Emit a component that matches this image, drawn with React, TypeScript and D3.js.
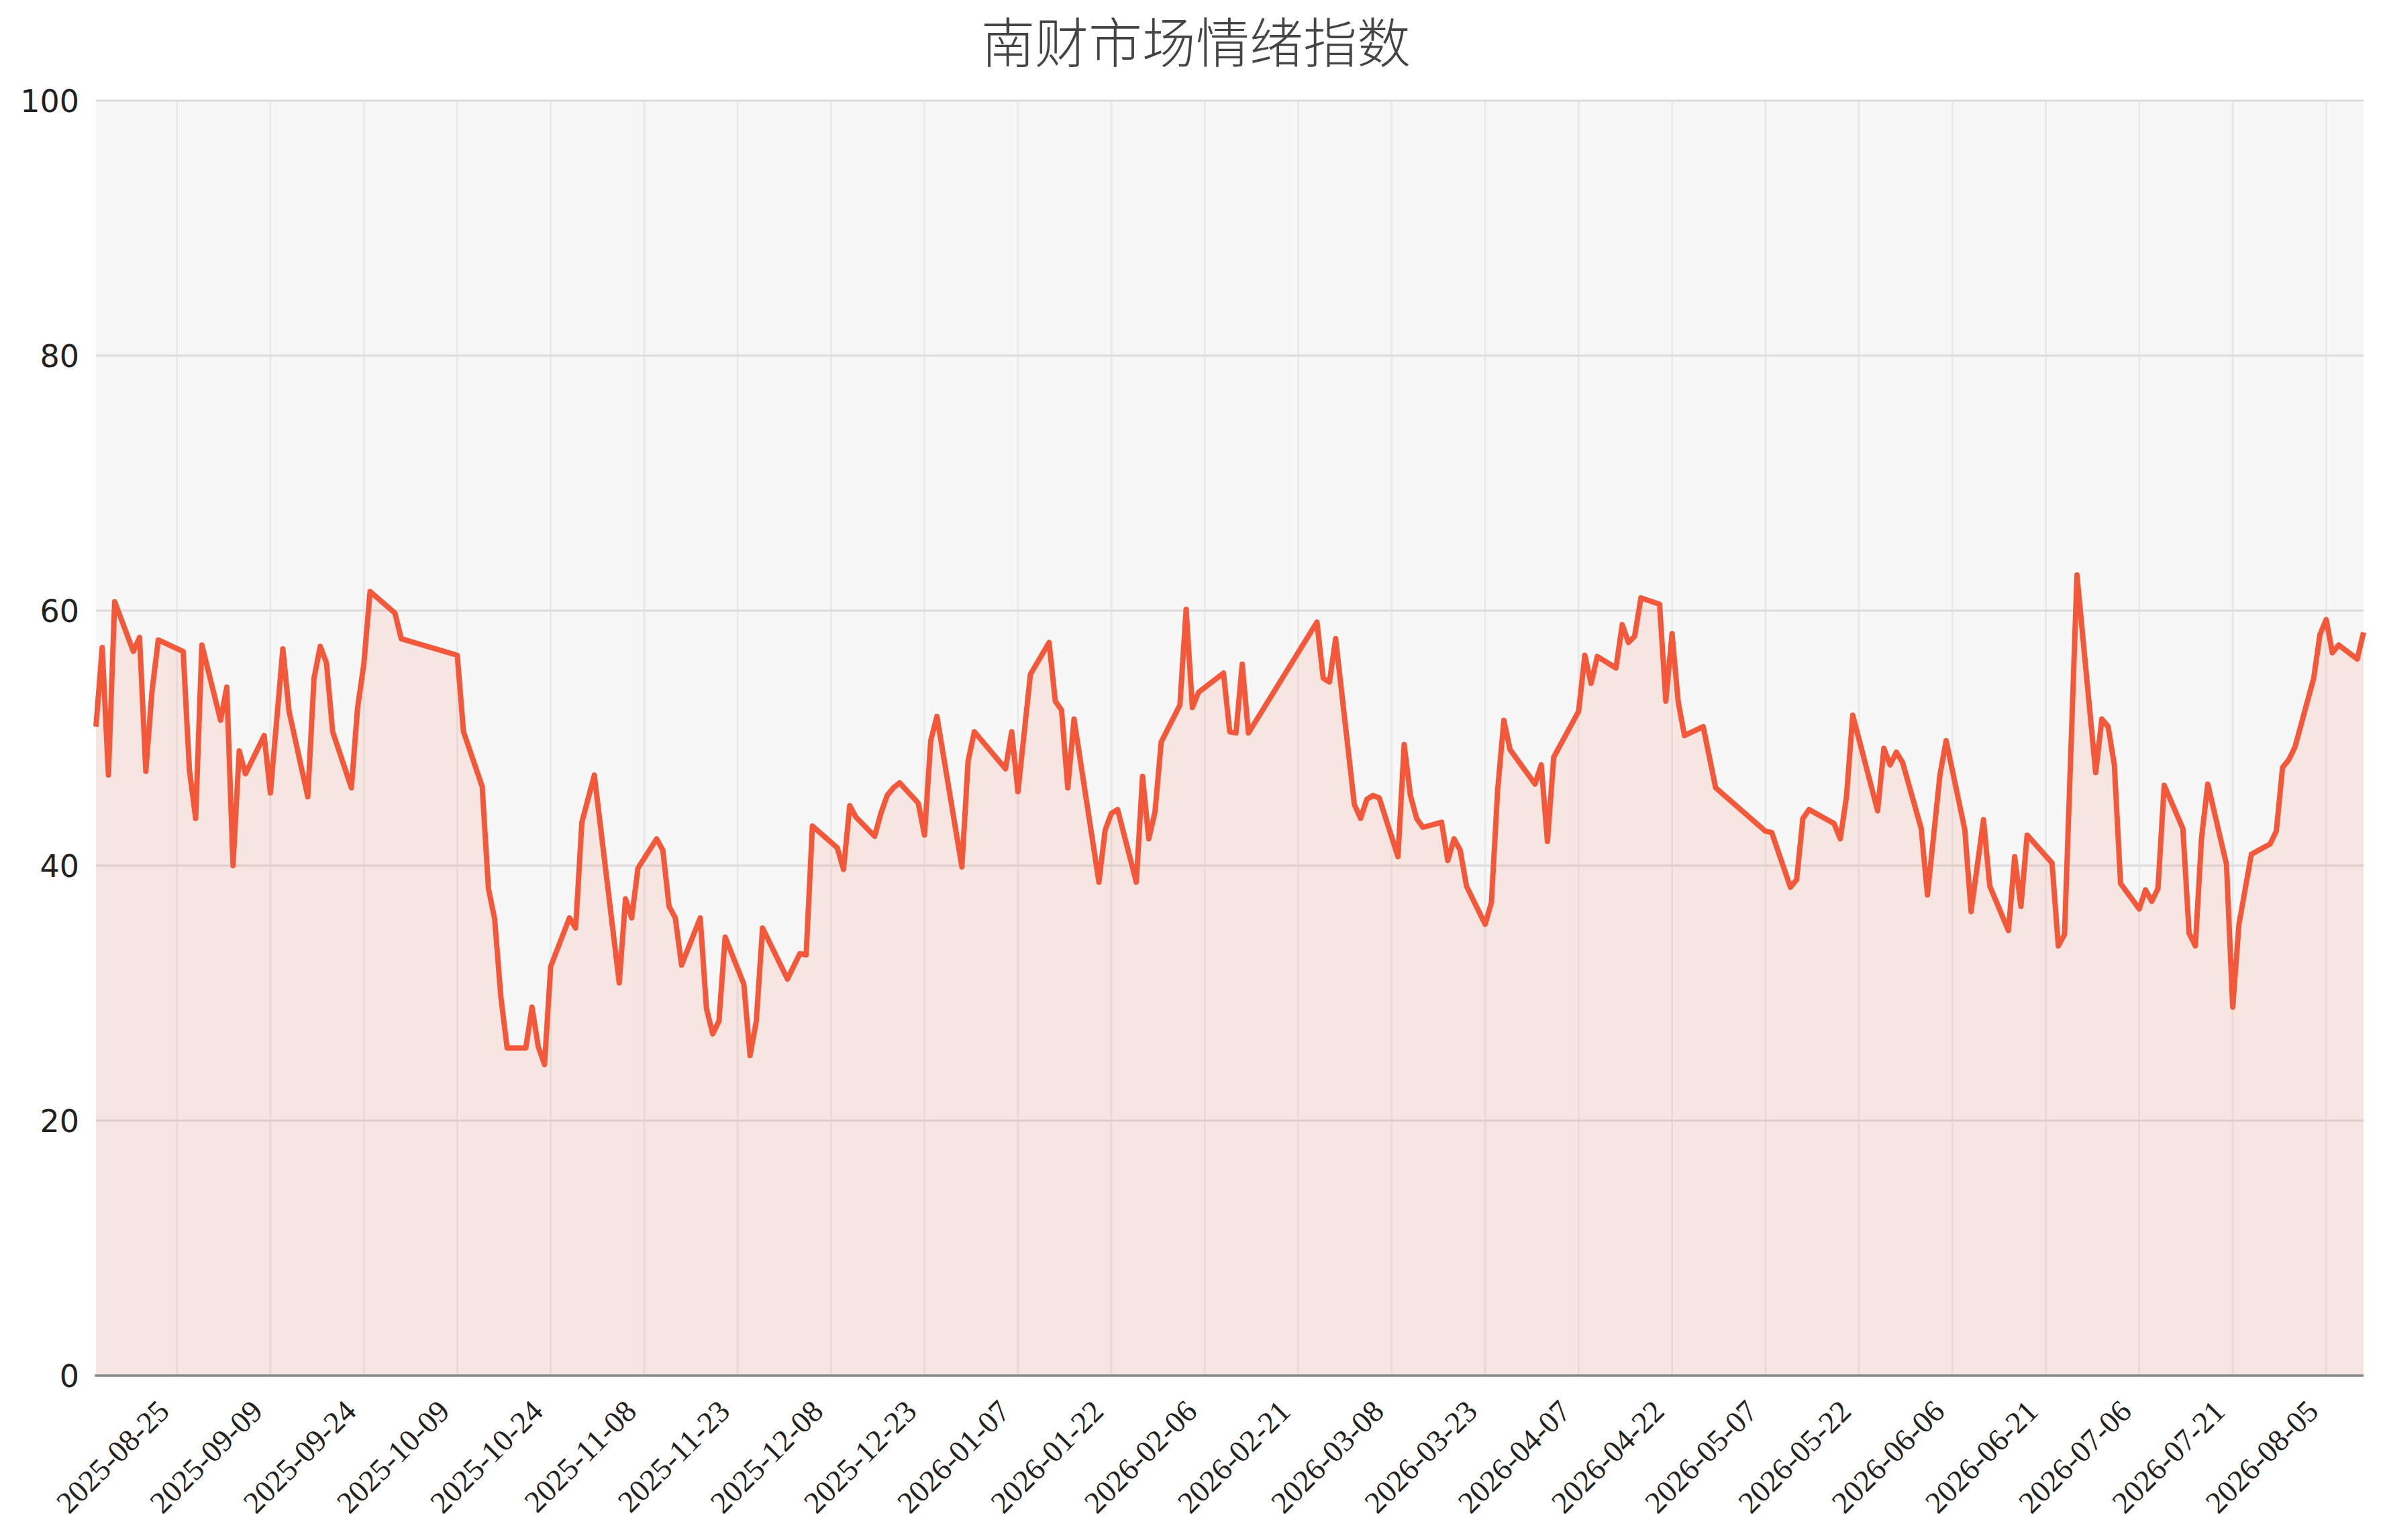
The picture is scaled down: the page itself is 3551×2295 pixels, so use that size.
import React, { useEffect, useRef } from "react";
import * as d3 from "d3";

const title = "南财市场情绪指数";

// trading days (vertices of the line)
const dates = [
  "2025-08-12", "2025-08-13", "2025-08-14", "2025-08-15", "2025-08-18", "2025-08-19", "2025-08-20", "2025-08-21",
  "2025-08-22", "2025-08-26", "2025-08-27", "2025-08-28", "2025-08-29", "2025-09-01", "2025-09-02", "2025-09-03",
  "2025-09-04", "2025-09-05", "2025-09-08", "2025-09-09", "2025-09-11", "2025-09-12", "2025-09-15", "2025-09-16",
  "2025-09-17", "2025-09-18", "2025-09-19", "2025-09-22", "2025-09-23", "2025-09-24", "2025-09-25", "2025-09-29",
  "2025-09-30", "2025-10-09", "2025-10-10", "2025-10-13", "2025-10-14", "2025-10-15", "2025-10-16", "2025-10-17",
  "2025-10-20", "2025-10-21", "2025-10-22", "2025-10-23", "2025-10-24", "2025-10-27", "2025-10-28", "2025-10-29",
  "2025-10-31", "2025-11-04", "2025-11-05", "2025-11-06", "2025-11-07", "2025-11-10", "2025-11-11", "2025-11-12",
  "2025-11-13", "2025-11-14", "2025-11-17", "2025-11-18", "2025-11-19", "2025-11-20", "2025-11-21", "2025-11-24",
  "2025-11-25", "2025-11-26", "2025-11-27", "2025-12-01", "2025-12-03", "2025-12-04", "2025-12-05", "2025-12-09",
  "2025-12-10", "2025-12-11", "2025-12-12", "2025-12-15", "2025-12-16", "2025-12-17", "2025-12-18", "2025-12-19",
  "2025-12-22", "2025-12-23", "2025-12-24", "2025-12-25", "2025-12-29", "2025-12-30", "2025-12-31", "2026-01-05",
  "2026-01-06", "2026-01-07", "2026-01-09", "2026-01-12", "2026-01-13", "2026-01-14", "2026-01-15", "2026-01-16",
  "2026-01-20", "2026-01-21", "2026-01-22", "2026-01-23", "2026-01-26", "2026-01-27", "2026-01-28", "2026-01-29",
  "2026-01-30", "2026-02-02", "2026-02-03", "2026-02-04", "2026-02-05", "2026-02-09", "2026-02-10", "2026-02-11",
  "2026-02-12", "2026-02-13", "2026-02-24", "2026-02-25", "2026-02-26", "2026-02-27", "2026-03-02", "2026-03-03",
  "2026-03-04", "2026-03-05", "2026-03-06", "2026-03-09", "2026-03-10", "2026-03-11", "2026-03-12", "2026-03-13",
  "2026-03-16", "2026-03-17", "2026-03-18", "2026-03-19", "2026-03-20", "2026-03-23", "2026-03-24", "2026-03-25",
  "2026-03-26", "2026-03-27", "2026-03-31", "2026-04-01", "2026-04-02", "2026-04-03", "2026-04-07", "2026-04-08",
  "2026-04-09", "2026-04-10", "2026-04-13", "2026-04-14", "2026-04-15", "2026-04-16", "2026-04-17", "2026-04-20",
  "2026-04-21", "2026-04-22", "2026-04-23", "2026-04-24", "2026-04-27", "2026-04-29", "2026-05-07", "2026-05-08",
  "2026-05-11", "2026-05-12", "2026-05-13", "2026-05-14", "2026-05-18", "2026-05-19", "2026-05-20", "2026-05-21",
  "2026-05-25", "2026-05-26", "2026-05-27", "2026-05-28", "2026-05-29", "2026-06-01", "2026-06-02", "2026-06-04",
  "2026-06-05", "2026-06-08", "2026-06-09", "2026-06-11", "2026-06-12", "2026-06-15", "2026-06-16", "2026-06-17",
  "2026-06-18", "2026-06-22", "2026-06-23", "2026-06-24", "2026-06-26", "2026-06-29", "2026-06-30", "2026-07-01",
  "2026-07-02", "2026-07-03", "2026-07-06", "2026-07-07", "2026-07-08", "2026-07-09", "2026-07-10", "2026-07-13",
  "2026-07-14", "2026-07-15", "2026-07-16", "2026-07-17", "2026-07-20", "2026-07-21", "2026-07-22", "2026-07-24",
  "2026-07-27", "2026-07-28", "2026-07-29", "2026-07-30", "2026-07-31", "2026-08-03", "2026-08-04", "2026-08-05",
  "2026-08-06", "2026-08-07", "2026-08-10", "2026-08-11",
];

const values = [
  50.9, 57.1, 47.1, 60.7, 56.8, 57.9, 47.4, 53.7,
  57.7, 56.8, 47.5, 43.7, 57.3, 51.4, 54.0, 40.0,
  49.0, 47.2, 50.2, 45.7, 57.0, 52.1, 45.4, 54.7,
  57.2, 55.9, 50.5, 46.1, 52.4, 55.8, 61.5, 59.8,
  57.8, 56.5, 50.5, 46.2, 38.2, 35.8, 29.7, 25.7,
  25.7, 28.9, 25.8, 24.4, 32.1, 35.9, 35.1, 43.4,
  47.1, 30.8, 37.4, 35.9, 39.8, 42.1, 41.2, 36.8,
  35.9, 32.2, 35.9, 28.8, 26.8, 27.8, 34.4, 30.7,
  25.1, 27.8, 35.1, 31.1, 33.1, 33.0, 43.1, 41.4,
  39.7, 44.7, 43.8, 42.3, 44.1, 45.5, 46.1, 46.5,
  44.9, 42.4, 49.8, 51.7, 39.9, 48.2, 50.5, 47.6,
  50.5, 45.8, 55.0, 57.5, 52.9, 52.2, 46.1, 51.5,
  38.7, 42.8, 44.1, 44.4, 38.7, 47.0, 42.1, 44.2,
  49.7, 52.6, 60.1, 52.4, 53.6, 55.1, 50.5, 50.4,
  55.8, 50.4, 59.1, 54.7, 54.4, 57.8, 44.8, 43.7,
  45.2, 45.5, 45.3, 40.7, 49.5, 45.5, 43.7, 43.0,
  43.4, 40.4, 42.1, 41.2, 38.4, 35.4, 37.1, 45.9,
  51.4, 49.1, 46.4, 47.9, 41.9, 48.5, 52.1, 56.5,
  54.3, 56.4, 55.5, 58.9, 57.5, 58.0, 61.0, 60.5,
  52.9, 58.2, 52.8, 50.2, 50.9, 46.1, 42.7, 42.6,
  38.3, 38.9, 43.7, 44.4, 43.3, 42.1, 45.4, 51.8,
  44.3, 49.2, 47.9, 48.9, 48.1, 42.9, 37.7, 47.1,
  49.8, 42.8, 36.4, 43.6, 38.4, 34.9, 40.7, 36.8,
  42.4, 40.2, 33.7, 34.6, 62.8, 47.3, 51.5, 50.9,
  47.9, 38.6, 36.6, 38.1, 37.2, 38.2, 46.3, 42.9,
  34.7, 33.7, 42.2, 46.4, 40.1, 28.9, 35.4, 40.9,
  41.7, 42.7, 47.7, 48.3, 49.3, 54.7, 58.1, 59.3,
  56.7, 57.3, 56.2, 58.3,
];

const xTickLabels = [
  "2025-08-25", "2025-09-09", "2025-09-24", "2025-10-09", "2025-10-24", "2025-11-08",
  "2025-11-23", "2025-12-08", "2025-12-23", "2026-01-07", "2026-01-22", "2026-02-06",
  "2026-02-21", "2026-03-08", "2026-03-23", "2026-04-07", "2026-04-22", "2026-05-07",
  "2026-05-22", "2026-06-06", "2026-06-21", "2026-07-06", "2026-07-21", "2026-08-05",
];

const yTicks = [0, 20, 40, 60, 80, 100];

const W = 3551;
const H = 2295;
const margin = { top: 150, right: 29, bottom: 245, left: 143 };
const lineColor = "#f4583a";

export default function App() {
  const ref = useRef<SVGSVGElement>(null);

  useEffect(() => {
    const svg = d3.select(ref.current);
    svg.selectAll("*").remove();

    const parse = d3.utcParse("%Y-%m-%d");
    const points = dates.map((d, i) => ({ date: parse(d) as Date, value: values[i] }));

    const innerW = W - margin.left - margin.right;
    const innerH = H - margin.top - margin.bottom;

    const x = d3
      .scaleUtc()
      .domain(d3.extent(points, (d) => d.date) as [Date, Date])
      .range([0, innerW]);
    const y = d3.scaleLinear().domain([0, 100]).range([innerH, 0]);

    svg
      .append("rect")
      .attr("width", W)
      .attr("height", H)
      .attr("fill", "#ffffff");

    svg
      .append("text")
      .attr("x", 1782)
      .attr("y", 93)
      .attr("text-anchor", "middle")
      .attr("font-family", "'Noto Sans CJK SC', sans-serif")
      .attr("font-size", 80)
      .attr("font-weight", 300)
      .attr("fill", "#444444")
      .text(title);

    const g = svg.append("g").attr("transform", `translate(${margin.left},${margin.top})`);

    g.append("rect").attr("width", innerW).attr("height", innerH).attr("fill", "#f7f7f7");

    // vertical grid
    g.append("g")
      .selectAll("line")
      .data(xTickLabels)
      .enter()
      .append("line")
      .attr("x1", (d) => x(parse(d) as Date))
      .attr("x2", (d) => x(parse(d) as Date))
      .attr("y1", 0)
      .attr("y2", innerH)
      .attr("stroke", "#e9e9e9")
      .attr("stroke-width", 3);

    // horizontal grid
    g.append("g")
      .selectAll("line")
      .data(yTicks)
      .enter()
      .append("line")
      .attr("x1", 0)
      .attr("x2", innerW)
      .attr("y1", (d) => y(d))
      .attr("y2", (d) => y(d))
      .attr("stroke", "#dcdcdc")
      .attr("stroke-width", 3);

    const area = d3
      .area<{ date: Date; value: number }>()
      .x((d) => x(d.date))
      .y0(y(0))
      .y1((d) => y(d.value));

    const line = d3
      .line<{ date: Date; value: number }>()
      .x((d) => x(d.date))
      .y((d) => y(d.value));

    g.append("path").datum(points).attr("d", area).attr("fill", lineColor).attr("fill-opacity", 0.11);

    g.append("path")
      .datum(points)
      .attr("d", line)
      .attr("fill", "none")
      .attr("stroke", lineColor)
      .attr("stroke-width", 8)
      .attr("stroke-linejoin", "round");

    // bottom spine
    g.append("line")
      .attr("x1", -2)
      .attr("x2", innerW)
      .attr("y1", innerH)
      .attr("y2", innerH)
      .attr("stroke", "#888888")
      .attr("stroke-width", 3.3);

    // y labels
    g.append("g")
      .selectAll("text")
      .data(yTicks)
      .enter()
      .append("text")
      .attr("x", -25)
      .attr("y", (d) => y(d))
      .attr("dy", "0.36em")
      .attr("text-anchor", "end")
      .attr("font-family", "'DejaVu Sans', sans-serif")
      .attr("font-size", 46)
      .attr("fill", "#222222")
      .text((d) => String(d));

    // x labels, rotated
    g.append("g")
      .selectAll("text")
      .data(xTickLabels)
      .enter()
      .append("text")
      .attr("transform", (d) => `translate(${x(parse(d) as Date) - 9},${innerH + 56}) rotate(-45)`)
      .attr("text-anchor", "end")
      .attr("font-family", "'Liberation Serif', serif")
      .attr("font-size", 46)
      .attr("fill", "#222222")
      .text((d) => d);
  }, []);

  return (
    <svg
      ref={ref}
      width={W}
      height={H}
      style={{ position: "absolute", left: 0, top: 0, display: "block" }}
    />
  );
}
